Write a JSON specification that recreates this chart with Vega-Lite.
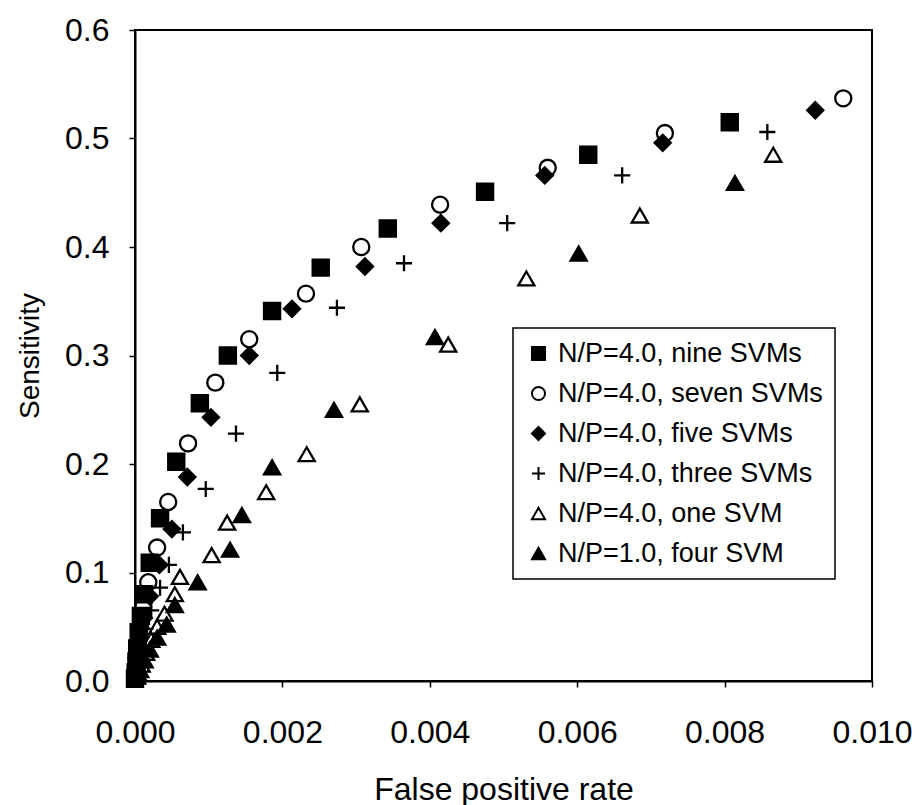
{
  "$schema": "https://vega.github.io/schema/vega-lite/v6.json",
  "width": 737,
  "height": 651,
  "autosize": "none",
  "padding": {"left": 135, "top": 30, "right": 40, "bottom": 124},
  "background": "white",
  "config": {
    "font": "Liberation Sans",
    "view": {"stroke": "black", "strokeWidth": 2},
    "axis": {"grid": false, "labelFlush": false, "domainColor": "black", "domainWidth": 2, "tickColor": "black", "tickWidth": 1.5, "tickSize": 6, "labelColor": "black", "titleColor": "black", "labelFont": "Liberation Sans", "titleFont": "Liberation Sans", "titleFontWeight": "normal"},
    "legend": {"strokeColor": "black", "strokeWidth": 1.5, "padding": 12, "rowPadding": 12, "labelFontSize": 27, "labelColor": "black", "labelFont": "Liberation Sans", "symbolStrokeWidth": 2, "symbolSize": 170, "labelOffset": 6, "labelLimit": 400, "fillColor": "white"}
  },
  "data": {"values": [
    {"series": "N/P=4.0, nine SVMs", "fpr": 0.00807, "sens": 0.515},
    {"series": "N/P=4.0, nine SVMs", "fpr": 0.00615, "sens": 0.485},
    {"series": "N/P=4.0, nine SVMs", "fpr": 0.00475, "sens": 0.451},
    {"series": "N/P=4.0, nine SVMs", "fpr": 0.00343, "sens": 0.417},
    {"series": "N/P=4.0, nine SVMs", "fpr": 0.00252, "sens": 0.381},
    {"series": "N/P=4.0, nine SVMs", "fpr": 0.00186, "sens": 0.341},
    {"series": "N/P=4.0, nine SVMs", "fpr": 0.00126, "sens": 0.300},
    {"series": "N/P=4.0, nine SVMs", "fpr": 0.00088, "sens": 0.256},
    {"series": "N/P=4.0, nine SVMs", "fpr": 0.00056, "sens": 0.202},
    {"series": "N/P=4.0, nine SVMs", "fpr": 0.00034, "sens": 0.150},
    {"series": "N/P=4.0, nine SVMs", "fpr": 0.00020, "sens": 0.109},
    {"series": "N/P=4.0, nine SVMs", "fpr": 0.00012, "sens": 0.080},
    {"series": "N/P=4.0, nine SVMs", "fpr": 0.00008, "sens": 0.060},
    {"series": "N/P=4.0, nine SVMs", "fpr": 0.00005, "sens": 0.045},
    {"series": "N/P=4.0, nine SVMs", "fpr": 0.00003, "sens": 0.030},
    {"series": "N/P=4.0, nine SVMs", "fpr": 0.00002, "sens": 0.018},
    {"series": "N/P=4.0, nine SVMs", "fpr": 0.00001, "sens": 0.008},
    {"series": "N/P=4.0, nine SVMs", "fpr": 0.0, "sens": 0.002},
    {"series": "N/P=4.0, seven SVMs", "fpr": 0.00961, "sens": 0.537},
    {"series": "N/P=4.0, seven SVMs", "fpr": 0.00719, "sens": 0.505},
    {"series": "N/P=4.0, seven SVMs", "fpr": 0.00560, "sens": 0.473},
    {"series": "N/P=4.0, seven SVMs", "fpr": 0.00414, "sens": 0.439},
    {"series": "N/P=4.0, seven SVMs", "fpr": 0.00307, "sens": 0.400},
    {"series": "N/P=4.0, seven SVMs", "fpr": 0.00232, "sens": 0.357},
    {"series": "N/P=4.0, seven SVMs", "fpr": 0.00155, "sens": 0.315},
    {"series": "N/P=4.0, seven SVMs", "fpr": 0.00109, "sens": 0.275},
    {"series": "N/P=4.0, seven SVMs", "fpr": 0.00072, "sens": 0.219},
    {"series": "N/P=4.0, seven SVMs", "fpr": 0.00045, "sens": 0.165},
    {"series": "N/P=4.0, seven SVMs", "fpr": 0.00030, "sens": 0.123},
    {"series": "N/P=4.0, seven SVMs", "fpr": 0.00018, "sens": 0.091},
    {"series": "N/P=4.0, seven SVMs", "fpr": 0.00011, "sens": 0.068},
    {"series": "N/P=4.0, seven SVMs", "fpr": 0.00007, "sens": 0.050},
    {"series": "N/P=4.0, seven SVMs", "fpr": 0.00004, "sens": 0.035},
    {"series": "N/P=4.0, seven SVMs", "fpr": 0.00002, "sens": 0.020},
    {"series": "N/P=4.0, seven SVMs", "fpr": 0.00001, "sens": 0.010},
    {"series": "N/P=4.0, five SVMs", "fpr": 0.00923, "sens": 0.526},
    {"series": "N/P=4.0, five SVMs", "fpr": 0.00716, "sens": 0.496},
    {"series": "N/P=4.0, five SVMs", "fpr": 0.00556, "sens": 0.466},
    {"series": "N/P=4.0, five SVMs", "fpr": 0.00415, "sens": 0.422},
    {"series": "N/P=4.0, five SVMs", "fpr": 0.00312, "sens": 0.382},
    {"series": "N/P=4.0, five SVMs", "fpr": 0.00213, "sens": 0.343},
    {"series": "N/P=4.0, five SVMs", "fpr": 0.00155, "sens": 0.300},
    {"series": "N/P=4.0, five SVMs", "fpr": 0.00103, "sens": 0.243},
    {"series": "N/P=4.0, five SVMs", "fpr": 0.00071, "sens": 0.188},
    {"series": "N/P=4.0, five SVMs", "fpr": 0.00050, "sens": 0.140},
    {"series": "N/P=4.0, five SVMs", "fpr": 0.00033, "sens": 0.107},
    {"series": "N/P=4.0, five SVMs", "fpr": 0.00020, "sens": 0.078},
    {"series": "N/P=4.0, five SVMs", "fpr": 0.00012, "sens": 0.058},
    {"series": "N/P=4.0, five SVMs", "fpr": 0.00007, "sens": 0.040},
    {"series": "N/P=4.0, five SVMs", "fpr": 0.00004, "sens": 0.026},
    {"series": "N/P=4.0, five SVMs", "fpr": 0.00002, "sens": 0.014},
    {"series": "N/P=4.0, five SVMs", "fpr": 0.00001, "sens": 0.005},
    {"series": "N/P=4.0, three SVMs", "fpr": 0.00858, "sens": 0.506},
    {"series": "N/P=4.0, three SVMs", "fpr": 0.00661, "sens": 0.466},
    {"series": "N/P=4.0, three SVMs", "fpr": 0.00505, "sens": 0.422},
    {"series": "N/P=4.0, three SVMs", "fpr": 0.00365, "sens": 0.385},
    {"series": "N/P=4.0, three SVMs", "fpr": 0.00274, "sens": 0.344},
    {"series": "N/P=4.0, three SVMs", "fpr": 0.00193, "sens": 0.284},
    {"series": "N/P=4.0, three SVMs", "fpr": 0.00137, "sens": 0.228},
    {"series": "N/P=4.0, three SVMs", "fpr": 0.00096, "sens": 0.177},
    {"series": "N/P=4.0, three SVMs", "fpr": 0.00065, "sens": 0.137},
    {"series": "N/P=4.0, three SVMs", "fpr": 0.00046, "sens": 0.107},
    {"series": "N/P=4.0, three SVMs", "fpr": 0.00034, "sens": 0.086},
    {"series": "N/P=4.0, three SVMs", "fpr": 0.00022, "sens": 0.065},
    {"series": "N/P=4.0, three SVMs", "fpr": 0.00014, "sens": 0.048},
    {"series": "N/P=4.0, three SVMs", "fpr": 0.00008, "sens": 0.032},
    {"series": "N/P=4.0, three SVMs", "fpr": 0.00004, "sens": 0.019},
    {"series": "N/P=4.0, three SVMs", "fpr": 0.00002, "sens": 0.009},
    {"series": "N/P=4.0, one SVM", "fpr": 0.00866, "sens": 0.485},
    {"series": "N/P=4.0, one SVM", "fpr": 0.00685, "sens": 0.429},
    {"series": "N/P=4.0, one SVM", "fpr": 0.00531, "sens": 0.371},
    {"series": "N/P=4.0, one SVM", "fpr": 0.00425, "sens": 0.310},
    {"series": "N/P=4.0, one SVM", "fpr": 0.00305, "sens": 0.255},
    {"series": "N/P=4.0, one SVM", "fpr": 0.00233, "sens": 0.209},
    {"series": "N/P=4.0, one SVM", "fpr": 0.00178, "sens": 0.174},
    {"series": "N/P=4.0, one SVM", "fpr": 0.00125, "sens": 0.146},
    {"series": "N/P=4.0, one SVM", "fpr": 0.00104, "sens": 0.116},
    {"series": "N/P=4.0, one SVM", "fpr": 0.00061, "sens": 0.096},
    {"series": "N/P=4.0, one SVM", "fpr": 0.00054, "sens": 0.080},
    {"series": "N/P=4.0, one SVM", "fpr": 0.00040, "sens": 0.062},
    {"series": "N/P=4.0, one SVM", "fpr": 0.00030, "sens": 0.050},
    {"series": "N/P=4.0, one SVM", "fpr": 0.00022, "sens": 0.038},
    {"series": "N/P=4.0, one SVM", "fpr": 0.00015, "sens": 0.026},
    {"series": "N/P=4.0, one SVM", "fpr": 0.00009, "sens": 0.015},
    {"series": "N/P=4.0, one SVM", "fpr": 0.00004, "sens": 0.007},
    {"series": "N/P=1.0, four SVM", "fpr": 0.00814, "sens": 0.459},
    {"series": "N/P=1.0, four SVM", "fpr": 0.00602, "sens": 0.394},
    {"series": "N/P=1.0, four SVM", "fpr": 0.00407, "sens": 0.317},
    {"series": "N/P=1.0, four SVM", "fpr": 0.00270, "sens": 0.250},
    {"series": "N/P=1.0, four SVM", "fpr": 0.00186, "sens": 0.197},
    {"series": "N/P=1.0, four SVM", "fpr": 0.00145, "sens": 0.153},
    {"series": "N/P=1.0, four SVM", "fpr": 0.00129, "sens": 0.121},
    {"series": "N/P=1.0, four SVM", "fpr": 0.00085, "sens": 0.091},
    {"series": "N/P=1.0, four SVM", "fpr": 0.00054, "sens": 0.070},
    {"series": "N/P=1.0, four SVM", "fpr": 0.00043, "sens": 0.052},
    {"series": "N/P=1.0, four SVM", "fpr": 0.00030, "sens": 0.040},
    {"series": "N/P=1.0, four SVM", "fpr": 0.00020, "sens": 0.029},
    {"series": "N/P=1.0, four SVM", "fpr": 0.00013, "sens": 0.019},
    {"series": "N/P=1.0, four SVM", "fpr": 0.00007, "sens": 0.010},
    {"series": "N/P=1.0, four SVM", "fpr": 0.00003, "sens": 0.004}
  ]},
  "mark": {"type": "point", "size": 260, "strokeWidth": 2.3, "opacity": 1, "stroke": "black"},
  "encoding": {
    "x": {"field": "fpr", "type": "quantitative", "scale": {"domain": [0, 0.01], "nice": false, "zero": false}, "axis": {"values": [0, 0.002, 0.004, 0.006, 0.008, 0.01], "format": ".3f", "labelFontSize": 32, "labelPadding": 30, "title": "False positive rate", "titleFontSize": 32, "titlePadding": 26}},
    "y": {"field": "sens", "type": "quantitative", "scale": {"domain": [0, 0.6], "nice": false}, "axis": {"values": [0, 0.1, 0.2, 0.3, 0.4, 0.5, 0.6], "format": ".1f", "labelFontSize": 32, "labelPadding": 20, "title": "Sensitivity", "titleFontSize": 28, "titlePadding": 20}},
    "shape": {"field": "series", "type": "nominal", "scale": {"domain": ["N/P=4.0, nine SVMs", "N/P=4.0, seven SVMs", "N/P=4.0, five SVMs", "N/P=4.0, three SVMs", "N/P=4.0, one SVM", "N/P=1.0, four SVM"], "range": ["square", "circle", "diamond", "M-1,0H1M0,-1V1", "triangle-up", "triangle-up"]}, "legend": {"title": null, "orient": "none", "legendX": 378, "legendY": 298}},
    "fill": {"field": "series", "type": "nominal", "scale": {"domain": ["N/P=4.0, nine SVMs", "N/P=4.0, seven SVMs", "N/P=4.0, five SVMs", "N/P=4.0, three SVMs", "N/P=4.0, one SVM", "N/P=1.0, four SVM"], "range": ["black", "transparent", "black", "transparent", "transparent", "black"]}, "legend": {"title": null, "orient": "none", "legendX": 378, "legendY": 298}}
  }
}
